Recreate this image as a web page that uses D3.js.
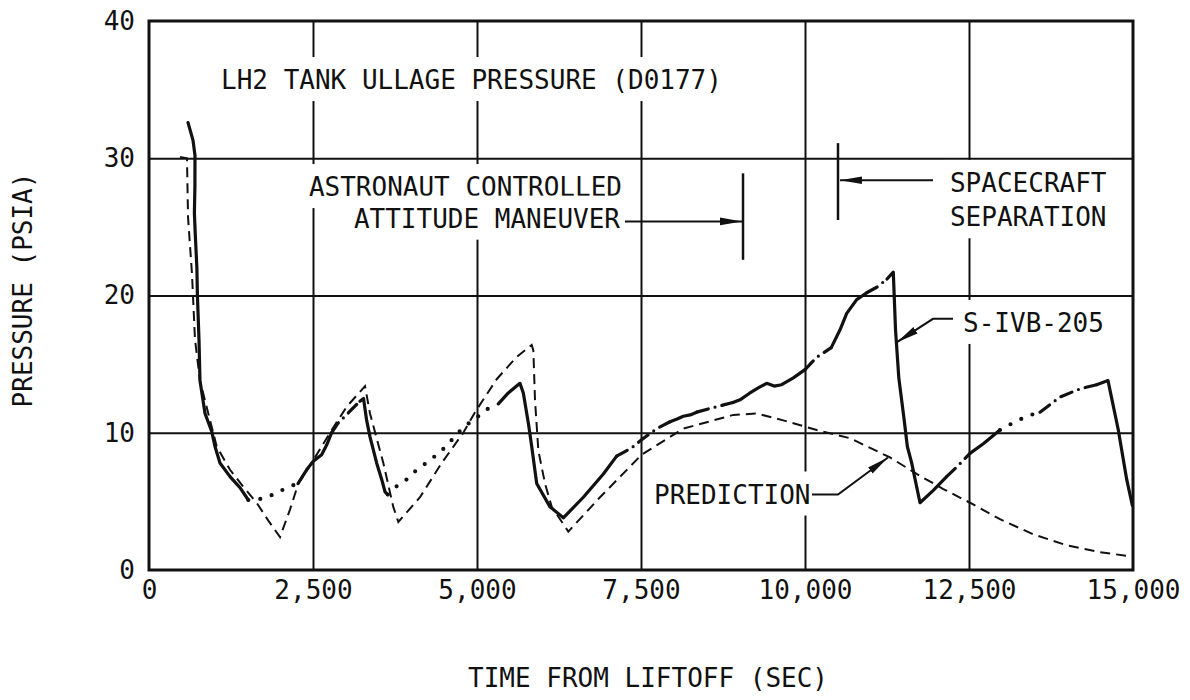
<!DOCTYPE html>
<html>
<head>
<meta charset="utf-8">
<script src="https://cdn.jsdelivr.net/npm/d3@7"></script>
<style>
  body { margin: 0; background: #fff; }
  svg { display: block; }
  text { font-family: 'DejaVu Sans Mono', monospace; fill: #111; }
</style>
</head>
<body>
<svg id="chart" width="1190" height="700"></svg>
<script>
// Axis ticks
const xTicks = [0, 2500, 5000, 7500, 10000, 12500, 15000];
const yTicks = [0, 10, 20, 30, 40];
const xGrid = [2500, 5000, 7500, 10000, 12500];
const yGrid = [10, 20, 30];

// S-IVB-205 flight measurement (sec, psia); trace = how the segment ending at that point is drawn
const measuredTime = [595, 671, 701, 700, 692, 705, 730, 738, 762, 777, 854, 956, 1006, 1082, 1235, 1387, 1514,
  1738, 1946, 2099, 2271,
  2403, 2500, 2632, 2708, 2784,
  2881, 2988, 3090, 3216,
  3270, 3318, 3369, 3470, 3547, 3598, 3640,
  3776, 3928, 4081, 4284, 4462, 4640, 4791, 4995, 5148, 5325,
  5477, 5655, 5706, 5783, 5834, 5910, 6113, 6316, 6621, 6926, 7129,
  7358, 7510, 7739, 7942,
  8050, 8145, 8250, 8349,
  8654, 8900,
  9009, 9161, 9300, 9415, 9530, 9644, 9822, 10000,
  10178, 10400,
  10534, 10636, 10788, 10941,
  11093, 11250,
  11346, 11380, 11430, 11510, 11560, 11626, 11753, 11956, 12159,
  12312, 12515,
  12718, 12972,
  13125, 13379, 13582,
  13887, 14192, 14446,
  14619, 14776, 14904, 14990];
const measuredPsi = [32.6, 31.3, 30.2, 28.0, 26.0, 24.5, 22.0, 20.0, 16.8, 13.8, 11.4, 10.1, 9.0, 7.8, 6.8, 6.0, 5.1,
  5.2, 5.6, 6.0, 6.3,
  7.3, 7.9, 8.4, 9.1, 10.0,
  10.7, 11.2, 11.7, 12.3,
  12.5, 10.9, 9.7, 7.8, 6.6, 5.7, 5.5,
  6.1, 6.6, 7.3, 8.0, 8.7, 9.6, 10.4, 11.1, 11.7, 12.1,
  12.9, 13.6, 12.9, 10.7, 9.0, 6.3, 4.6, 3.8, 5.3, 7.0, 8.3,
  8.9, 9.5, 10.3, 10.8,
  11.0, 11.2, 11.3, 11.5,
  11.9, 12.2,
  12.4, 12.9, 13.3, 13.6, 13.4, 13.5, 14.0, 14.6,
  15.5, 16.2,
  17.5, 18.7, 19.7, 20.2,
  20.6, 21.2,
  21.7, 17.5, 14.0, 11.0, 9.0, 7.8, 4.9, 5.8, 6.8,
  7.5, 8.5,
  9.2, 10.2,
  10.6, 11.2, 11.5,
  12.6, 13.2, 13.5,
  13.8, 10.2, 6.6, 4.7];
const measuredTrace = [null, 's', 's', 's', 's', 's', 's', 's', 's', 's', 's', 's', 's', 's', 's', 's', 's',
  'o', 'o', 'o', 'o',
  's', 's', 's', 's', 's',
  'd', 'd', 'd', 'd',
  's', 's', 's', 's', 's', 's', 's',
  'o', 'o', 'o', 'o', 'o', 'o', 'o', 'o', 'o', 'o',
  's', 's', 's', 's', 's', 's', 's', 's', 's', 's', 's',
  'd', 'd', 'd', 'd',
  's', 's', 's', 's',
  'd', 'd',
  's', 's', 's', 's', 's', 's', 's', 's',
  'd', 'd',
  's', 's', 's', 's',
  'd', 'd',
  's', 's', 's', 's', 's', 's', 's', 's', 's',
  'd', 'd',
  's', 's',
  'o', 'o', 'o',
  'd', 'd', 'd',
  's', 's', 's', 's'];

// Predicted ullage pressure (sec, psia)
const predictionTime = [473, 579, 595, 655, 701, 777, 930, 1032, 1235, 1433, 1641, 1819, 1997, 2149, 2276, 2480, 2759,
  3014, 3293, 3369, 3572, 3724, 3801, 4131, 4462, 4791, 4970, 5300, 5600, 5834, 5859, 5884, 5935, 6037, 6139, 6392,
  6875, 7510, 8145, 8908, 9264, 9669, 10178, 10686, 11296, 11702, 12108, 12515, 12972, 13480, 13989, 14497, 14954];
const predictionPsi = [30.1, 30.0, 25.7, 21.6, 16.8, 13.8, 10.9, 9.0, 7.3, 6.1, 4.9, 3.6, 2.4, 4.4, 6.3, 7.8, 10.0,
  11.9, 13.4, 11.4, 7.8, 4.6, 3.5, 5.3, 7.8, 10.0, 11.5, 13.9, 15.5, 16.4, 16.0, 12.4, 8.7, 6.3, 4.6, 2.8,
  5.3, 8.4, 10.3, 11.3, 11.4, 10.9, 10.2, 9.6, 8.2, 7.0, 5.9, 4.9, 3.7, 2.6, 1.8, 1.3, 1.0];

// Event markers (sec) and their vertical extent (psia)
const maneuverTime = 9055, maneuverSpan = [22.6, 28.9];
const separationTime = 10503, separationSpan = [25.5, 31.1];

const svg = d3.select('#chart');
const plot = { left: 149, right: 1133, top: 21, bottom: 570 };
const x = d3.scaleLinear().domain([0, 15000]).range([plot.left, plot.right]);
const y = d3.scaleLinear().domain([0, 40]).range([plot.bottom, plot.top]);
const ink = '#111';
const fontSize = 26;

// arrowhead
svg.append('defs').append('marker')
  .attr('id', 'arrow').attr('markerUnits', 'userSpaceOnUse')
  .attr('markerWidth', 24).attr('markerHeight', 12)
  .attr('refX', 22).attr('refY', 5).attr('orient', 'auto')
  .append('path').attr('d', 'M0,1.2 L22,5 L0,8.8 Z').attr('fill', ink);

// grid
const gridV = svg.append('g')
  .attr('transform', `translate(0,${plot.bottom})`)
  .call(d3.axisBottom(x).tickValues(xGrid).tickSize(-(plot.bottom - plot.top)).tickFormat(''));
const gridH = svg.append('g')
  .attr('transform', `translate(${plot.left},0)`)
  .call(d3.axisLeft(y).tickValues(yGrid).tickSize(-(plot.right - plot.left)).tickFormat(''));
[gridV, gridH].forEach(g => {
  g.select('.domain').remove();
  g.selectAll('line').attr('stroke', ink).attr('stroke-width', 2);
});

// tick labels
const xAxis = svg.append('g')
  .attr('transform', `translate(0,${plot.bottom})`)
  .call(d3.axisBottom(x).tickValues(xTicks).tickSize(0).tickPadding(11).tickFormat(d3.format(',')));
const yAxis = svg.append('g')
  .attr('transform', `translate(${plot.left},0)`)
  .call(d3.axisLeft(y).tickValues(yTicks).tickSize(0).tickPadding(14));
[xAxis, yAxis].forEach(g => {
  g.select('.domain').remove();
  g.selectAll('text').attr('font-family', "'DejaVu Sans Mono', monospace")
    .attr('font-size', fontSize).attr('fill', ink);
});

// annotation text with white knock-out behind it
const notes = svg.append('g');
function note(str, t, p, anchor) {
  const g = notes.append('g');
  const txt = g.append('text')
    .attr('x', x(t)).attr('y', y(p))
    .attr('dominant-baseline', 'central')
    .attr('text-anchor', anchor)
    .attr('font-size', fontSize)
    .text(str);
  const b = txt.node().getBBox();
  g.insert('rect', 'text')
    .attr('x', b.x - 5).attr('y', b.y - 8)
    .attr('width', b.width + 10).attr('height', b.height + 14)
    .attr('fill', '#fff');
}
note('LH2 TANK ULLAGE PRESSURE (D0177)', 1098, 35.7, 'start');
note('ASTRONAUT CONTROLLED', 7210, 27.9, 'end');
note('ATTITUDE MANEUVER', 7180, 25.6, 'end');
note('SPACECRAFT', 12210, 28.2, 'start');
note('SEPARATION', 12210, 25.7, 'start');
note('S-IVB-205', 12409, 18.0, 'start');
note('PREDICTION', 7698, 5.5, 'start');

// leader lines and event markers
const lead = d3.line().x(d => x(d[0])).y(d => y(d[1]));
const leaders = svg.append('g').attr('fill', 'none').attr('stroke', ink).attr('stroke-width', 2);
leaders.append('path').attr('d', lead([[maneuverTime, maneuverSpan[0]], [maneuverTime, maneuverSpan[1]]])).attr('stroke-width', 2.5);
leaders.append('path').attr('d', lead([[separationTime, separationSpan[0]], [separationTime, separationSpan[1]]])).attr('stroke-width', 2.5);
leaders.append('path').attr('d', lead([[7256, 25.4], [maneuverTime - 15, 25.4]])).attr('marker-end', 'url(#arrow)');
leaders.append('path').attr('d', lead([[11951, 28.4], [separationTime + 30, 28.4]])).attr('marker-end', 'url(#arrow)');
leaders.append('path').attr('d', lead([[12256, 18.3], [11951, 18.3], [11402, 16.6]])).attr('marker-end', 'url(#arrow)');
leaders.append('path').attr('d', lead([[10107, 5.5], [10503, 5.5], [11265, 8.2]])).attr('marker-end', 'url(#arrow)');

// prediction curve
const line = d3.line().x(d => x(d[0])).y(d => y(d[1]));
svg.append('path')
  .datum(predictionTime.map((t, i) => [t, predictionPsi[i]]))
  .attr('d', line)
  .attr('fill', 'none').attr('stroke', ink).attr('stroke-width', 2)
  .attr('stroke-dasharray', '10,6');

// measured curve, split into runs of one trace style
const traceStyle = {
  s: { width: 3.2, dash: null },
  o: { width: 4.2, dash: '0,12' },
  d: { width: 3.2, dash: '12,7,0,7' }
};
const runs = [];
for (let i = 1; i < measuredTime.length; i++) {
  const s = measuredTrace[i];
  const last = runs[runs.length - 1];
  if (last && last.style === s) {
    last.pts.push([measuredTime[i], measuredPsi[i]]);
  } else {
    runs.push({ style: s, pts: [[measuredTime[i - 1], measuredPsi[i - 1]], [measuredTime[i], measuredPsi[i]]] });
  }
}
svg.append('g').selectAll('path').data(runs).join('path')
  .attr('d', d => line(d.pts))
  .attr('fill', 'none').attr('stroke', ink)
  .attr('stroke-linecap', 'round').attr('stroke-linejoin', 'round')
  .attr('stroke-width', d => traceStyle[d.style].width)
  .attr('stroke-dasharray', d => traceStyle[d.style].dash);

// frame
svg.append('rect')
  .attr('x', plot.left).attr('y', plot.top)
  .attr('width', plot.right - plot.left).attr('height', plot.bottom - plot.top)
  .attr('fill', 'none').attr('stroke', ink).attr('stroke-width', 3);

// axis titles
svg.append('text')
  .attr('x', 648).attr('y', 678)
  .attr('dominant-baseline', 'central').attr('text-anchor', 'middle')
  .attr('font-size', fontSize)
  .text('TIME FROM LIFTOFF (SEC)');
svg.append('text')
  .attr('transform', 'translate(23,290) rotate(-90)')
  .attr('dominant-baseline', 'central').attr('text-anchor', 'middle')
  .attr('font-size', fontSize)
  .text('PRESSURE (PSIA)');
</script>
</body>
</html>
